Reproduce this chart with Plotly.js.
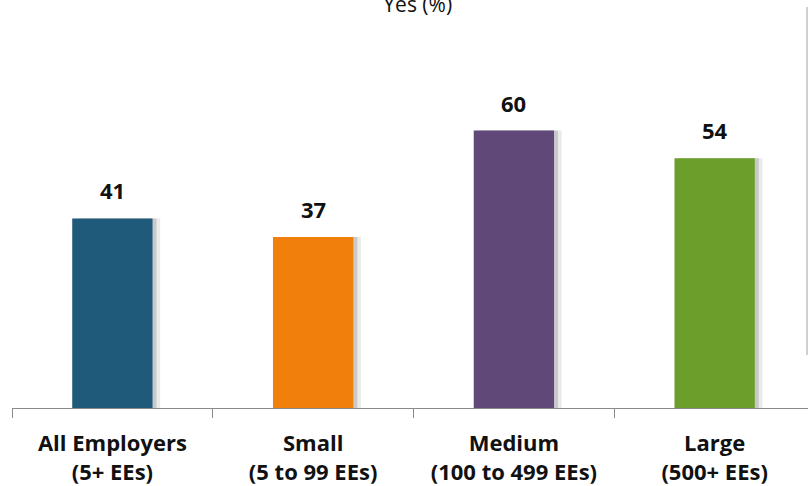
<!DOCTYPE html>
<html><head><meta charset="utf-8">
<script src="https://cdn.plot.ly/plotly-3.0.1.min.js"></script>
<style>html,body{margin:0;padding:0;background:#fff}#chart{width:808px;height:486px}</style>
</head><body><div id="chart"></div>
<script>
const categories = ["All Employers<br>(5+ EEs)", "Small<br>(5 to 99 EEs)", "Medium<br>(100 to 499 EEs)", "Large<br>(500+ EEs)"];
const values = [41, 37, 60, 54];
const colors = ["#1F5A7B", "#F07F0C", "#604878", "#6B9E2A"];
const chartTitle = "Yes (%)";

const FONT = '"Open Sans", "Noto Sans", sans-serif';
const shadow1 = {type:'bar', x: categories, y: values, width: 0.4, offset: -0.2 + 0.02,
  marker:{color:'rgba(0,0,0,0.14)', line:{width:0}}, hoverinfo:'skip', showlegend:false};
const shadow2 = {type:'bar', x: categories, y: values, width: 0.4, offset: -0.2 + 0.038,
  marker:{color:'rgba(0,0,0,0.08)', line:{width:0}}, hoverinfo:'skip', showlegend:false};
const main = {type:'bar', x: categories, y: values, width: 0.4, offset: -0.2,
  marker:{color: colors, line:{width:0}}, showlegend:false};

const annotations = values.map((v, i) => ({
  x: categories[i], y: v, xref:'x', yref:'y', text: '<b>' + v + '</b>', showarrow:false,
  yanchor:'bottom', yshift: 11, font:{family:FONT, size:22, color:'#111'}
}));

const layout = {
  width: 808, height: 486,
  margin: {l: 12, r: 0, t: 38, b: 78},
  paper_bgcolor:'#fff', plot_bgcolor:'#fff',
  barmode:'overlay',
  title: {text: chartTitle, x: 0.517, xanchor:'center', yref:'container', y: 1 - 12/486, yanchor:'bottom',
    font:{family:FONT, size:21, color:'#111'}},
  xaxis: {type:'category', range:[-0.5, 3.465], tickson:'boundaries',
    ticks:'outside', ticklen: 9, tickcolor:'#8a8a8a', tickwidth:1,
    showline:true, linecolor:'#8a8a8a', linewidth:1, showgrid:false, zeroline:false,
    ticklabelstandoff: 16,
    tickfont:{family:FONT, size:22, color:'#111', weight:'bold'},
    fixedrange:true},
  yaxis: {range:[0, 80], visible:false, showgrid:false, zeroline:false, fixedrange:true},
  annotations: annotations,
  shapes: [{type:'line', xref:'paper', yref:'paper', x0:(807-12)/796, x1:(807-12)/796,
    y0:(408-355)/370, y1:(408-7)/370, line:{color:'#a0a0a0', width:1}}],
  font:{family:FONT}
};
Plotly.newPlot('chart', [shadow2, shadow1, main], layout, {displayModeBar:false, staticPlot:true});
</script></body></html>
